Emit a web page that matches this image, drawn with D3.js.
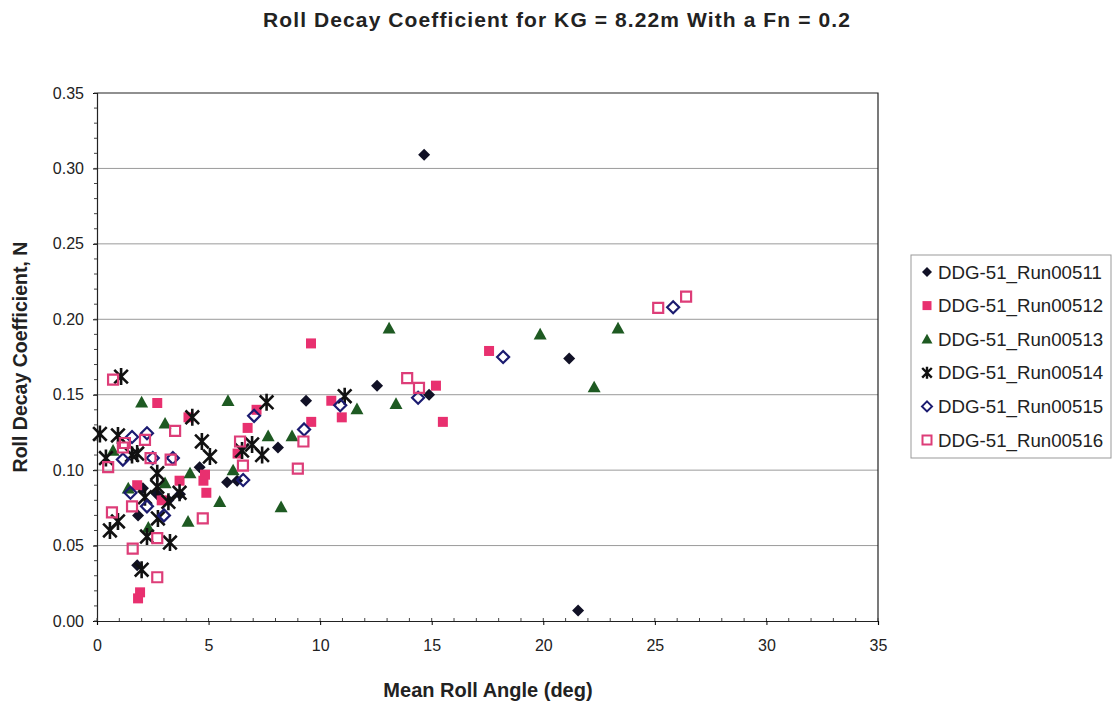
<!DOCTYPE html>
<html>
<head>
<meta charset="utf-8">
<script src="https://cdn.jsdelivr.net/npm/d3@7"></script>
<style>
  html, body { margin: 0; padding: 0; background: #fff; }
  svg { display: block; font-family: Arial, "Liberation Sans", sans-serif; }
</style>
</head>
<body>
<svg id="chart" width="1116" height="704"></svg>
<script>
// ---------- data ----------
const seriesNames = ["DDG-51_Run00511", "DDG-51_Run00512", "DDG-51_Run00513",
                     "DDG-51_Run00514", "DDG-51_Run00515", "DDG-51_Run00516"];

const run00511 = [[14.66,0.309],[12.55,0.156],[14.88,0.150],[9.37,0.146],[8.11,0.115],[21.16,0.174],
  [21.56,0.007],[1.8,0.037],[4.6,0.102],[2.06,0.088],[2.69,0.084],[3.72,0.084],[5.83,0.092],
  [6.28,0.093],[1.84,0.070],[3.2,0.080]];
const run00512 = [[9.59,0.184],[17.57,0.179],[15.19,0.156],[15.5,0.132],[10.5,0.146],[10.97,0.135],
  [9.6,0.132],[7.15,0.140],[6.75,0.128],[6.3,0.111],[4.77,0.093],[4.9,0.085],[2.7,0.1445],
  [4.1,0.135],[1.8,0.090],[3.7,0.093],[1.93,0.019],[1.84,0.015],[2.9,0.080],[4.84,0.097]];
const run00513 = [[13.09,0.194],[19.86,0.190],[23.35,0.194],[22.28,0.155],[13.4,0.144],[11.65,0.1405],
  [5.87,0.146],[2.0,0.145],[3.05,0.131],[7.67,0.1226],[8.74,0.1226],[6.1,0.100],[5.5,0.079],
  [8.25,0.0756],[4.08,0.066],[1.4,0.088],[0.72,0.113],[4.17,0.098],[2.3,0.062],[3.05,0.0915]];
const run00514 = [[1.08,0.162],[0.13,0.124],[0.94,0.123],[4.27,0.135],[7.6,0.145],[11.1,0.149],
  [4.7,0.119],[5.06,0.109],[6.5,0.113],[6.95,0.117],[7.4,0.110],[0.4,0.108],[1.57,0.110],
  [2.7,0.098],[0.58,0.060],[0.94,0.066],[2.15,0.082],[2.24,0.056],[2.73,0.068],[3.27,0.052],
  [2.0,0.034],[3.7,0.085],[2.7,0.089],[1.8,0.111],[3.2,0.079]];
const run00515 = [[25.82,0.208],[18.2,0.175],[14.39,0.148],[10.9,0.143],[9.28,0.127],[7.04,0.136],
  [1.57,0.122],[2.24,0.1245],[1.16,0.107],[2.5,0.108],[3.4,0.108],[6.55,0.0935],[2.24,0.076],
  [1.5,0.085],[3.0,0.070]];
const run00516 = [[26.4,0.215],[25.15,0.2075],[13.9,0.161],[14.43,0.1545],[9.25,0.119],[9.0,0.101],
  [6.41,0.119],[6.54,0.103],[4.74,0.068],[3.5,0.126],[0.72,0.160],[1.25,0.118],[2.15,0.12],
  [0.5,0.102],[1.16,0.115],[2.4,0.108],[3.3,0.107],[0.67,0.072],[1.57,0.076],[1.6,0.048],
  [2.7,0.055],[2.7,0.029]];

const xTicks = [0, 5, 10, 15, 20, 25, 30, 35];
const yTicks = [0, 0.05, 0.10, 0.15, 0.20, 0.25, 0.30, 0.35];

const titleText = "Roll Decay Coefficient for KG = 8.22m With a Fn = 0.2";
const xLabel = "Mean Roll Angle (deg)";
const yLabel = "Roll Decay Coefficient, N";

// ---------- layout ----------
const svg = d3.select("#chart");
const L = 97, R = 878, T = 93, B = 621;
const x = d3.scaleLinear().domain([0, 35]).range([L, R]);
const y = d3.scaleLinear().domain([0, 0.35]).range([B, T]);

const styles = [
  { shape: "diamond", fill: "#111126", stroke: "none" },
  { shape: "square",  fill: "#e8306f", stroke: "none" },
  { shape: "triangle",fill: "#1e5a22", stroke: "none" },
  { shape: "star",    fill: "none",    stroke: "#111" },
  { shape: "diamond", fill: "none",    stroke: "#1b1b70" },
  { shape: "square",  fill: "none",    stroke: "#dd3d78" }
];
const allSeries = [run00511, run00512, run00513, run00514, run00515, run00516];

function shapePath(shape, s) {
  const h = s / 2;
  if (shape === "diamond") return `M0,${-h}L${h},0L0,${h}L${-h},0Z`;
  if (shape === "square") return `M${-h},${-h}H${h}V${h}H${-h}Z`;
  if (shape === "triangle") return `M0,${-h}L${h},${h*0.8}L${-h},${h*0.8}Z`;
  if (shape === "star") {
    const d = h * 0.8;
    return `M${-d},${-d}L${d},${d}M${-d},${d}L${d},${-d}M0,${-h}L0,${h}`;
  }
}
const markerSize = { diamond: 12, square: 10, triangle: 13, star: 17 };
const legendSize = { diamond: 10, square: 9, triangle: 11, star: 12 };

// gridlines
svg.append("g")
  .selectAll("line").data(yTicks.slice(1, -1)).join("line")
  .attr("x1", L).attr("x2", R)
  .attr("y1", d => y(d)).attr("y2", d => y(d))
  .attr("stroke", "#9a9a9a").attr("stroke-width", 1);

// plot border (top & right)
svg.append("path")
  .attr("d", `M${L},${T}H${R}V${B}`)
  .attr("fill", "none").attr("stroke", "#222").attr("stroke-width", 1.2);

// y axis
const yAxis = d3.axisLeft(y).tickValues(yTicks).tickFormat(d3.format(".2f")).tickSize(4).tickPadding(9);
const gy = svg.append("g").attr("transform", `translate(${L},0)`).call(yAxis);
gy.select(".domain").attr("stroke", "#222").attr("stroke-width", 1.2);
gy.selectAll("text").attr("font-size", 16).attr("fill", "#222");
// minor y ticks
const yMinor = d3.range(0, 0.3501, 0.01);
svg.append("g").selectAll("line").data(yMinor).join("line")
  .attr("x1", L - 3).attr("x2", L)
  .attr("y1", d => y(d)).attr("y2", d => y(d))
  .attr("stroke", "#444");

// x axis
const xAxis = d3.axisBottom(x).tickValues(xTicks).tickFormat(d3.format("d")).tickSize(4).tickPadding(15);
const gx = svg.append("g").attr("transform", `translate(0,${B})`).call(xAxis);
gx.select(".domain").attr("stroke", "#222").attr("stroke-width", 1.2);
gx.selectAll("text").attr("font-size", 16).attr("fill", "#222");
const xMinor = d3.range(0, 35.01, 1);
svg.append("g").selectAll("line").data(xMinor).join("line")
  .attr("x1", d => x(d)).attr("x2", d => x(d))
  .attr("y1", B - 3).attr("y2", B)
  .attr("stroke", "#444");

// points
allSeries.forEach((data, i) => {
  const st = styles[i];
  svg.append("g").selectAll("path").data(data).join("path")
    .attr("transform", d => `translate(${x(d[0])},${y(d[1])})`)
    .attr("d", shapePath(st.shape, markerSize[st.shape]))
    .attr("fill", st.fill)
    .attr("stroke", st.stroke)
    .attr("stroke-width", st.shape === "star" ? 2.6 : 2.2);
});

// titles
svg.append("text").attr("x", 557).attr("y", 27).attr("text-anchor", "middle")
  .attr("font-size", 21).attr("letter-spacing", 1.1).attr("font-weight", "bold").attr("fill", "#222").text(titleText);
svg.append("text").attr("x", 488).attr("y", 697).attr("text-anchor", "middle")
  .attr("font-size", 20).attr("font-weight", "bold").attr("fill", "#222").text(xLabel);
svg.append("text").attr("transform", "translate(27,357) rotate(-90)").attr("text-anchor", "middle")
  .attr("font-size", 19.5).attr("font-weight", "bold").attr("fill", "#222").text(yLabel);

// legend
const lg = svg.append("g");
lg.append("rect").attr("x", 911).attr("y", 255).attr("width", 200).attr("height", 203)
  .attr("fill", "#fff").attr("stroke", "#999").attr("stroke-width", 1);
seriesNames.forEach((name, i) => {
  const st = styles[i];
  const cy = 272 + i * 33.6;
  lg.append("path").attr("transform", `translate(927,${cy})`)
    .attr("d", shapePath(st.shape, legendSize[st.shape]))
    .attr("fill", st.fill).attr("stroke", st.stroke)
    .attr("stroke-width", st.shape === "star" ? 2.4 : 2);
  lg.append("text").attr("x", 938).attr("y", cy + 6.5).attr("font-size", 18.7)
    .attr("fill", "#222").text(name);
});
</script>
</body>
</html>
